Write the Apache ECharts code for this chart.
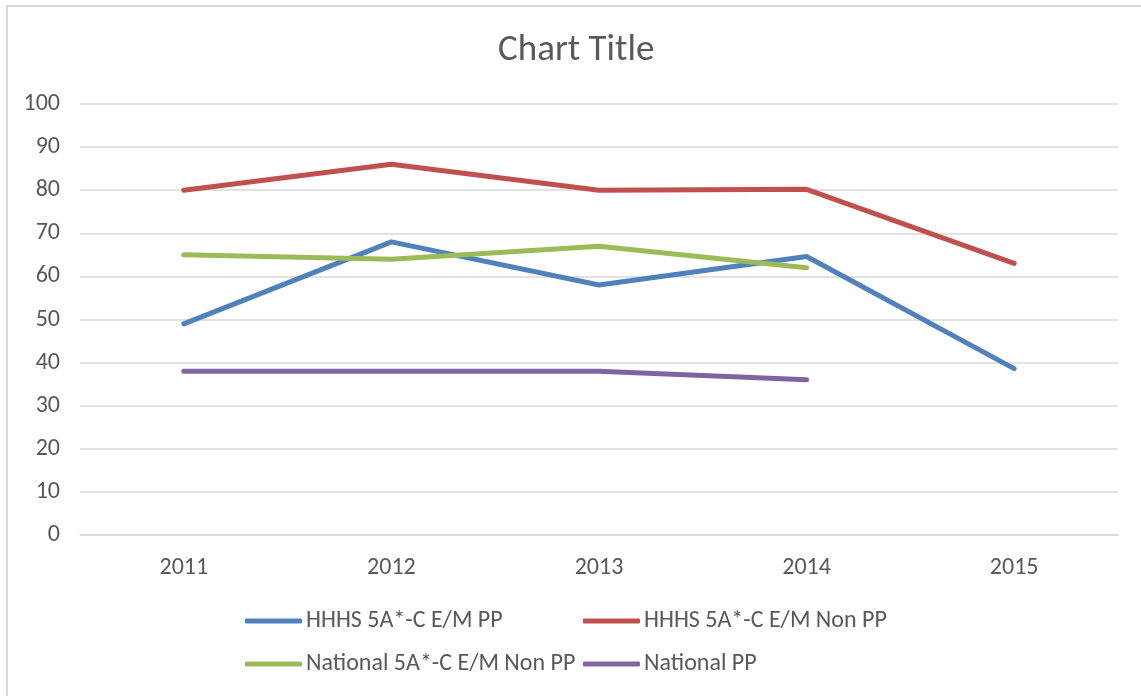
<!DOCTYPE html>
<html>
<head>
<meta charset="utf-8">
<script src="https://cdn.jsdelivr.net/npm/echarts@6/dist/echarts.min.js"></script>
<style>
  html, body { margin: 0; padding: 0; background: #fff; }
  #frame {
    position: absolute; left: 6px; top: 5px; width: 1200px; height: 800px;
    border-top: 2px solid #d9d9d9; border-left: 2px solid #d9d9d9;
  }
  #lineChart { position: absolute; left: 0; top: 0; width: 1141px; height: 696px; }
</style>
</head>
<body>
<div id="frame"></div>
<div id="lineChart"></div>
<script>
const years = ['2011', '2012', '2013', '2014', '2015']
const seriesNames = ['HHHS 5A*-C E/M PP', 'HHHS 5A*-C E/M Non PP', 'National 5A*-C E/M Non PP', 'National PP']
const hhhsPP = [49, 68, 58, 64.6, 38.6]
const hhhsNonPP = [80, 86, 80, 80.2, 63]
const nationalNonPP = [65, 64, 67, 62, null]
const nationalPP = [38, 38, 38, 36, null]
const colors = ['#4F81BD', '#C0504D', '#9BBB59', '#8064A2']

const font = "Calibri, Carlito, 'Open Sans', sans-serif"
const chart = echarts.init(document.querySelector('#lineChart'))

const legendPos = [
  { left: 245, top: 609 },
  { left: 583, top: 609 },
  { left: 245, top: 652 },
  { left: 583, top: 652 }
]

const makeLine = (name, data, color) => ({
  name: name,
  type: 'line',
  data: data,
  symbol: 'none',
  color: color,
  lineStyle: { width: 5, color: color, cap: 'round', join: 'round' },
  connectNulls: false
})

chart.setOption({
  animation: false,
  title: {
    text: 'Chart Title',
    left: 498,
    top: 32,
    padding: 0,
    textStyle: { color: '#595959', fontSize: 37, fontWeight: 'normal', fontFamily: font }
  },
  legend: seriesNames.map((n, i) => ({
    data: [n],
    left: legendPos[i].left,
    top: legendPos[i].top,
    padding: 0,
    icon: 'roundRect',
    itemWidth: 57,
    itemHeight: 5,
    textStyle: { color: '#595959', fontSize: 24, fontFamily: font, padding: [0, 0, 0, -1] }
  })),
  grid: { left: 80, right: 23, top: 104, bottom: 161 },
  xAxis: {
    type: 'category',
    data: years,
    boundaryGap: true,
    axisLine: { lineStyle: { color: '#d9d9d9', width: 1.5 } },
    axisTick: { show: false },
    axisLabel: { color: '#595959', fontSize: 24, fontFamily: font, margin: 21 }
  },
  yAxis: {
    type: 'value',
    min: 0,
    max: 100,
    interval: 10,
    axisLine: { show: false },
    axisTick: { show: false },
    splitLine: { lineStyle: { color: '#d9d9d9', width: 1.5 } },
    axisLabel: { color: '#595959', fontSize: 24, fontFamily: font, margin: 20 }
  },
  series: [
    makeLine(seriesNames[0], hhhsPP, colors[0]),
    makeLine(seriesNames[1], hhhsNonPP, colors[1]),
    makeLine(seriesNames[2], nationalNonPP, colors[2]),
    makeLine(seriesNames[3], nationalPP, colors[3])
  ]
})
</script>
</body>
</html>
